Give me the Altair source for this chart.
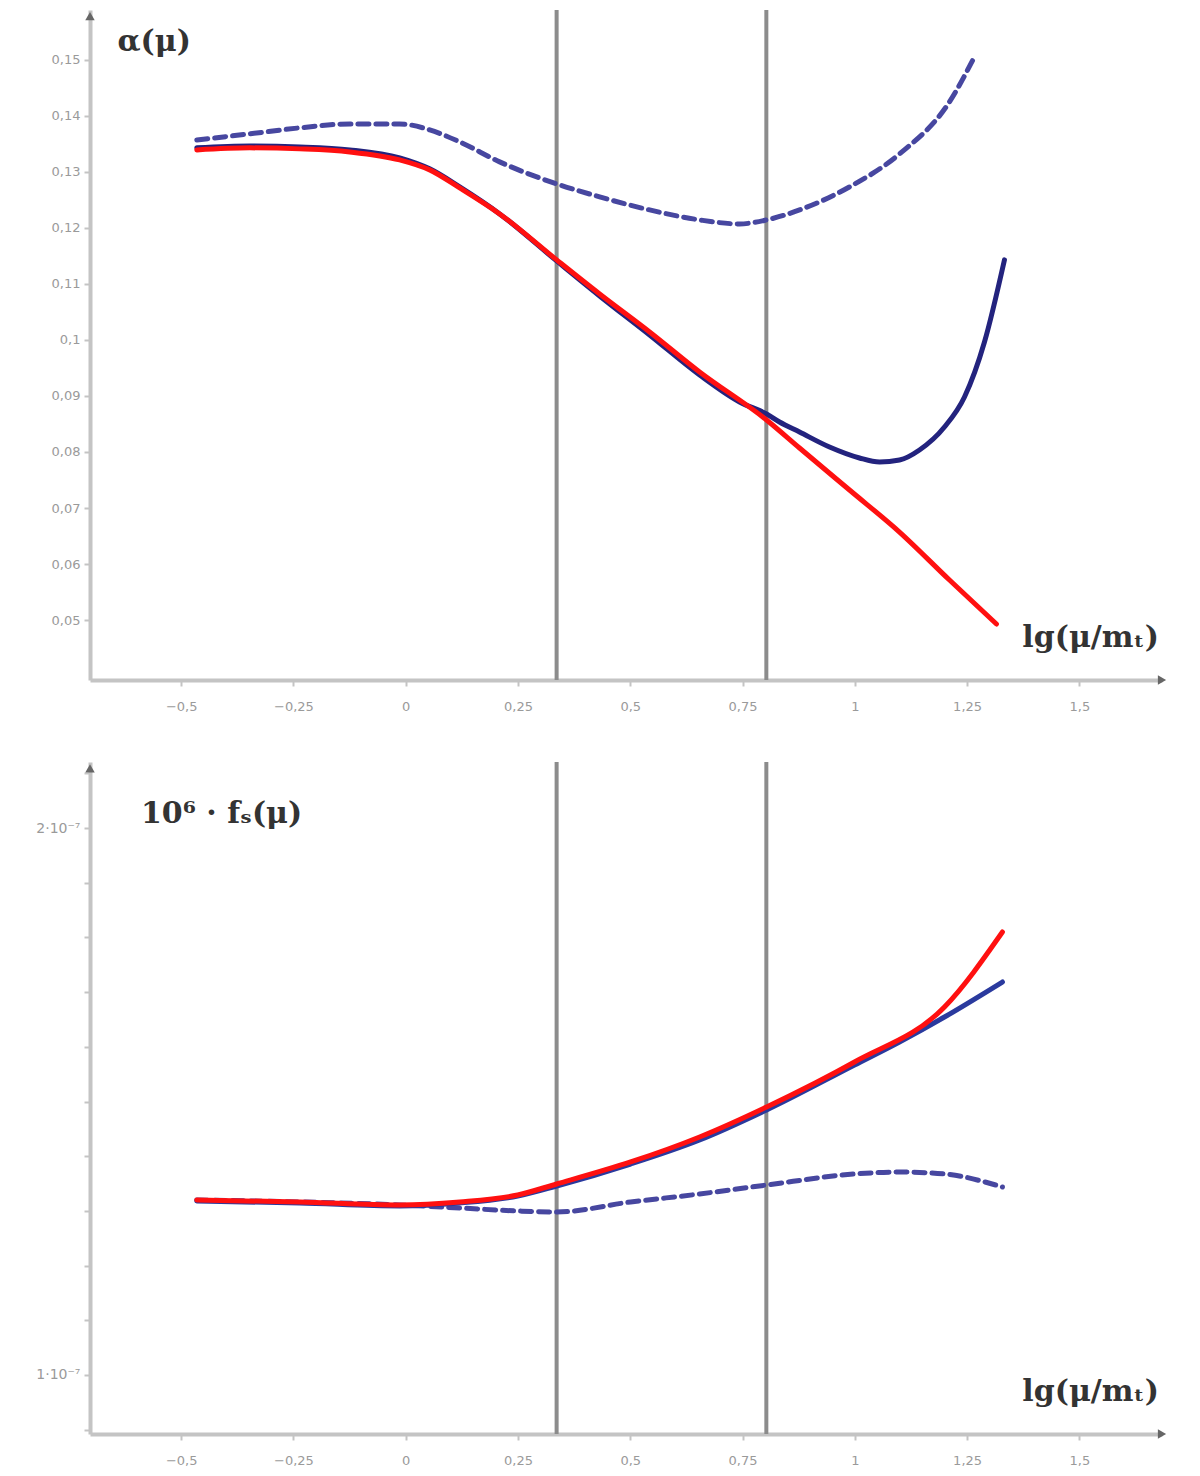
import altair as alt
import pandas as pd

PX0, PXU = 406.0, 449.3  # only used to convert read-off pixel positions into data values

def xs(pxs):
    return [round((p - PX0) / PXU, 4) for p in pxs]

def ytop(pys):
    return [round(0.15 - (p - 58) / 5600.0, 5) for p in pys]

def ybot(pys):
    return [round(1 + (1373 - p) / 547.0, 4) for p in pys]

# ---------- top panel data ----------
red_top_x = xs([197, 250, 300, 350, 400, 430, 460, 500, 557, 600, 650, 700, 767, 800, 850, 900, 950, 997])
red_top_y = ytop([148, 146, 147, 150, 158, 168, 186, 212, 258, 292, 330, 370, 418, 446, 488, 530, 578, 622])

navy_top_x = xs([197, 250, 300, 350, 400, 430, 460, 500, 557, 600, 650, 700, 740, 767, 780, 800, 830, 860, 880, 900, 920, 945, 965, 985, 1005])
navy_top_y = ytop([146, 144, 145, 148, 156, 167, 185, 212, 259, 294, 333, 373, 400, 412, 420, 430, 445, 456, 460, 458, 448, 425, 395, 340, 258])

dash_top_x = xs([197, 250, 300, 350, 400, 430, 460, 500, 557, 600, 650, 700, 740, 767, 800, 850, 900, 950, 975])
dash_top_y = ytop([138, 132, 126, 122, 122, 128, 140, 160, 182, 195, 208, 218, 222, 218, 208, 185, 152, 100, 55])

# ---------- bottom panel data ----------
red_bot_x = xs([197, 300, 400, 460, 518, 557, 631, 700, 767, 855, 945, 1003])
red_bot_y = ybot([1198, 1200, 1203, 1200, 1193, 1182, 1160, 1135, 1105, 1060, 1005, 930])

navy_bot_x = xs([197, 300, 400, 460, 518, 557, 631, 700, 767, 855, 900, 945, 1003])
navy_bot_y = ybot([1199, 1201, 1204, 1201, 1194, 1184, 1162, 1138, 1108, 1063, 1040, 1015, 980])

dash_bot_x = xs([197, 300, 400, 460, 518, 557, 631, 700, 767, 855, 900, 945, 1003])
dash_bot_y = ybot([1198, 1200, 1203, 1206, 1209, 1210, 1200, 1192, 1183, 1172, 1170, 1172, 1185])

vlines_x = [0.336, 0.803]

x_ticks = [-0.5, -0.25, 0, 0.25, 0.5, 0.75, 1, 1.25, 1.5]
top_y_ticks = [0.05, 0.06, 0.07, 0.08, 0.09, 0.1, 0.11, 0.12, 0.13, 0.14, 0.15]
bot_y_ticks = [0.9, 1.0, 1.1, 1.2, 1.3, 1.4, 1.5, 1.6, 1.7, 1.8, 1.9, 2.0, 2.1]

x_dom = [-0.703, 1.684]
top_dom = [0.0393, 0.1589]
bot_dom = [0.8921, 2.1207]
top_arrow_y = 0.1578
bot_arrow_y = 2.109

W = 1072
GRAY_AX = "#c4c4c4"
RED = "#ff1010"
NAVY = "#23237e"
DASH = "#4747a0"
VCOL = "#8c8c8c"

xlab = "replace(format(datum.value, '.2~f'), '.', ',')"


def xenc():
    return alt.X("x:Q", scale=alt.Scale(domain=x_dom, nice=False, zero=False),
                 axis=alt.Axis(values=x_ticks, labelExpr=xlab, title=None, grid=False,
                               domainColor=GRAY_AX, domainWidth=4, tickColor=GRAY_AX,
                               tickWidth=2, tickSize=6, labelColor="#9a9a9a", labelFontSize=13,
                               labelPadding=14, minExtent=40, maxExtent=40,
                               labelFont="DejaVu Sans"))


def yenc(dom, ticks, expr, fs):
    return alt.Y("y:Q", scale=alt.Scale(domain=dom, nice=False, zero=False),
                 axis=alt.Axis(values=ticks, labelExpr=expr, title=None, grid=False,
                               domainColor=GRAY_AX, domainWidth=4, tickColor=GRAY_AX,
                               tickWidth=2, tickSize=6, labelColor="#9a9a9a", labelFontSize=fs,
                               labelPadding=4, minExtent=82, maxExtent=82,
                               labelFont="DejaVu Sans"))


def line(xv, yv, color, width, dash=None):
    df = pd.DataFrame({"x": xv, "y": yv})
    kw = dict(color=color, strokeWidth=width, interpolate="monotone", strokeCap="round")
    if dash:
        kw["strokeDash"] = dash
    return alt.Chart(df).mark_line(**kw).encode(x="x:Q", y="y:Q")


def panel(dom, ticks, expr, fs, arrow_y, series, title_text, title_pos, xlab_pos, height):
    base_axes = alt.Chart(pd.DataFrame({"x": [x_dom[0]], "y": [dom[0]]})).mark_point(opacity=0).encode(
        x=xenc(), y=yenc(dom, ticks, expr, fs))
    vl = alt.Chart(pd.DataFrame({"x": vlines_x})).mark_rule(color=VCOL, strokeWidth=4).encode(x="x:Q")
    arrows_up = alt.Chart(pd.DataFrame({"x": [x_dom[0]], "y": [arrow_y]})).mark_point(
        shape="triangle-up", filled=True, color="#666666", size=90, opacity=1).encode(x="x:Q", y="y:Q")
    arrows_rt = alt.Chart(pd.DataFrame({"x": [x_dom[1]], "y": [dom[0]]})).mark_point(
        shape="triangle-right", filled=True, color="#666666", size=90, opacity=1).encode(x="x:Q", y="y:Q")
    t1 = alt.Chart(pd.DataFrame({"x": [title_pos[0]], "y": [title_pos[1]], "t": [title_text]})).mark_text(
        font="DejaVu Serif", fontWeight="bold", fontSize=30, color="#333333", align="center",
        baseline="middle").encode(x="x:Q", y="y:Q", text="t:N")
    t2 = alt.Chart(pd.DataFrame({"x": [xlab_pos[0]], "y": [xlab_pos[1]], "t": ["lg(μ/mₜ)"]})).mark_text(
        font="DejaVu Serif", fontWeight="bold", fontSize=30, color="#333333", align="center",
        baseline="middle").encode(x="x:Q", y="y:Q", text="t:N")
    return alt.layer(base_axes, vl, *series, arrows_up, arrows_rt, t1, t2).properties(width=W, height=height)


top_expr = "replace(format(datum.value, '.2~f'), '.', ',')"
bot_expr = "abs(datum.value-2)<0.001 ? '2·10⁻⁷' : (abs(datum.value-1)<0.001 ? '1·10⁻⁷' : '')"

top = panel(top_dom, top_y_ticks, top_expr, 13, top_arrow_y,
            [line(dash_top_x, dash_top_y, DASH, 5, [11, 7]),
             line(navy_top_x, navy_top_y, NAVY, 5),
             line(red_top_x, red_top_y, RED, 5)],
            "α(μ)", (-0.56, 0.1532), (1.525, 0.0468), 670)

bottom = panel(bot_dom, bot_y_ticks, bot_expr, 14, bot_arrow_y,
               [line(dash_bot_x, dash_bot_y, DASH, 5, [11, 7]),
                line(navy_bot_x, navy_bot_y, "#2a3a9e", 5),
                line(red_bot_x, red_bot_y, RED, 5)],
               "10⁶ · fₛ(μ)", (-0.41, 2.026), (1.525, 0.969), 672)

chart = alt.vconcat(top, bottom, spacing=40).properties(padding=0).configure_view(stroke=None)

chart.save("out.html", embed_options={"renderer": "svg", "actions": False})
